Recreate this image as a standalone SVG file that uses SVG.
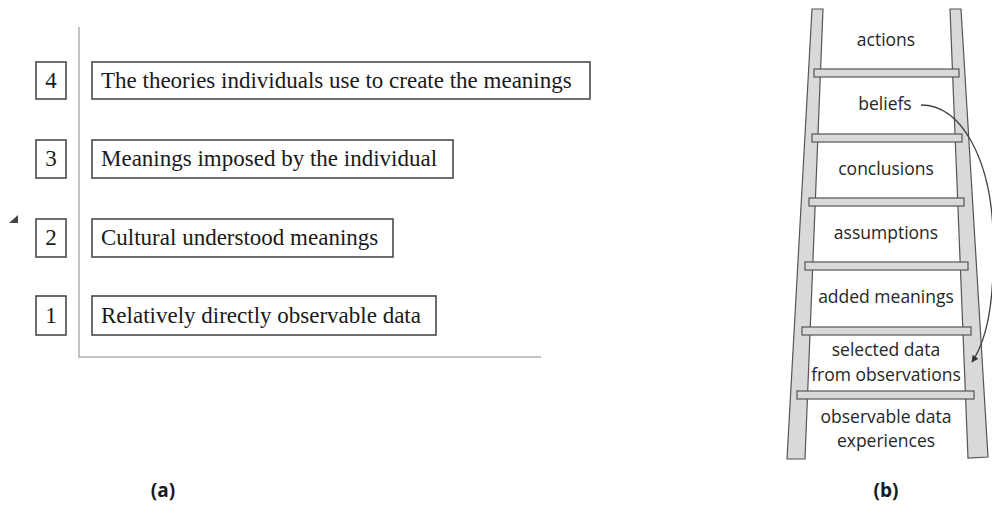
<svg xmlns="http://www.w3.org/2000/svg" width="992" height="522" viewBox="0 0 992 522">
<style>
.axis{stroke:#b0b0b0;stroke-width:1.5;fill:none}
.box{fill:#fff;stroke:#4a4a4a;stroke-width:1.6}
.tr{font-family:"Liberation Serif","Times New Roman",serif;font-size:23px;fill:#1a1a1a}
.rail{fill:#d9d9d9;stroke:#555;stroke-width:1.2}
.lt{font-family:"Open Sans","Noto Sans",sans-serif;font-size:17.5px;fill:#262626;text-anchor:middle}
.cap{font-family:"Open Sans","Noto Sans",sans-serif;font-size:19px;font-weight:bold;fill:#1a1a1a;text-anchor:middle}
.arr{fill:none;stroke:#444;stroke-width:1.3}
</style>
<defs>
<marker id="ah" viewBox="0 0 10 10" refX="9" refY="5" markerWidth="7" markerHeight="7" markerUnits="userSpaceOnUse" orient="auto">
<path d="M0,0 L10,5 L0,10 z" fill="#333"/>
</marker>
</defs>
<g id="panel-a">
<path class="axis" d="M79,27 V357 H541"/>
<path d="M9,223 L18,223 L18,215 Z" fill="#444"/>
<g id="n4"><rect class="box" x="36" y="62" width="30" height="37"/><text class="tr" x="51" y="88" text-anchor="middle">4</text>
<rect class="box" x="92" y="62" width="498" height="37"/><text class="tr" x="101" y="88">The theories individuals use to create the meanings</text></g>
<g id="n3"><rect class="box" x="36" y="140" width="30" height="38"/><text class="tr" x="51" y="166" text-anchor="middle">3</text>
<rect class="box" x="92" y="140" width="361" height="38"/><text class="tr" x="101" y="166">Meanings imposed by the individual</text></g>
<g id="n2"><rect class="box" x="36" y="219" width="30" height="38"/><text class="tr" x="51" y="245" text-anchor="middle">2</text>
<rect class="box" x="92" y="219" width="301" height="38"/><text class="tr" x="101" y="245">Cultural understood meanings</text></g>
<g id="n1"><rect class="box" x="36" y="296" width="30" height="39"/><text class="tr" x="51" y="323" text-anchor="middle">1</text>
<rect class="box" x="92" y="296" width="344" height="39"/><text class="tr" x="101" y="323">Relatively directly observable data</text></g>
</g>
<g id="ladder">
<path class="rail" d="M812,9 L823,9 L805,459 L787,459 Z"/>
<path class="rail" d="M950,9 L961,9 L988,457 L968,458 Z"/>
<rect class="rail" x="814" y="69" width="145" height="8"/>
<rect class="rail" x="812" y="134" width="150" height="8"/>
<rect class="rail" x="809" y="198" width="155" height="8"/>
<rect class="rail" x="805" y="262" width="163" height="8"/>
<rect class="rail" x="802" y="327" width="169" height="8"/>
<rect class="rail" x="797" y="391" width="177" height="8"/>
</g>
<g id="steps">
<text class="lt" x="886" y="46">actions</text>
<text id="beliefs" class="lt" x="885" y="110">beliefs</text>
<text class="lt" x="886" y="175">conclusions</text>
<text class="lt" x="886" y="239">assumptions</text>
<text class="lt" x="886" y="303">added meanings</text>
<text id="selected" class="lt" x="886" y="356">selected data</text>
<text class="lt" x="886" y="381">from observations</text>
<text class="lt" x="886" y="423">observable data</text>
<text class="lt" x="886" y="447">experiences</text>
</g>
<g id="connectors">
<path class="arr" marker-end="url(#ah)" d="M921,105 C962,105 990,160 993,230 C995,290 990,335 972,362"/>
</g>
<text class="cap" x="163" y="497">(a)</text>
<text class="cap" x="886" y="497">(b)</text>
</svg>
